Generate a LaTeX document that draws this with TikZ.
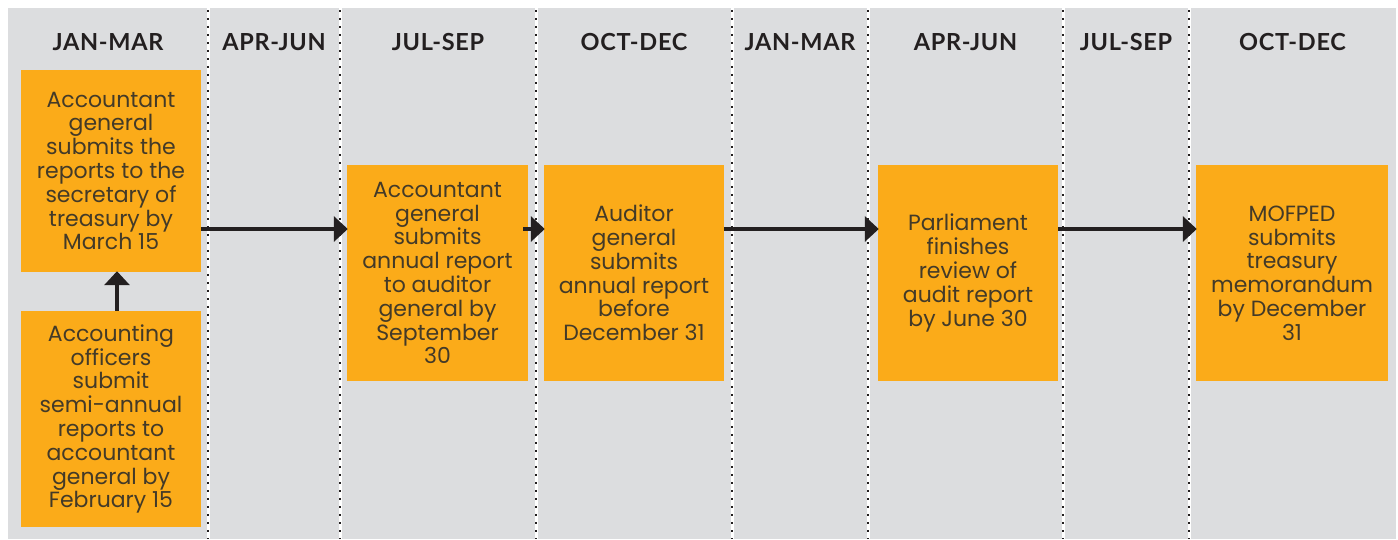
\documentclass[tikz,border=0pt]{standalone}
\usepackage{fontspec}
\setmainfont{Poppins}
\newfontfamily\headfont{Lato}[LetterSpace=3]
\usetikzlibrary{arrows.meta,calc}
\definecolor{panelgrey}{HTML}{DCDDDF}
\definecolor{boxorange}{HTML}{FBAB19}
\definecolor{inkdark}{HTML}{231F20}
\definecolor{boxink}{HTML}{433A28}
\tikzset{
  quarterhead/.style={font=\headfont\bfseries\fontsize{23.5}{24}\selectfont, text=inkdark, anchor=base, inner sep=0pt},
  eventbox/.style={fill=boxorange, draw=none, align=center, text=boxink,
    font=\fontsize{22}{23.8}\selectfont, inner sep=0pt},
  divider/.style={line width=3pt, white},
  dividerdots/.style={line width=2.2pt, inkdark, dash pattern=on 2.2pt off 5.8pt},
  flow/.style={line width=3.4pt, inkdark, -{Triangle[length=14pt,width=25pt]}, shorten >=-1pt}
}
\begin{document}
\begin{tikzpicture}[x=1pt,y=-1pt]
\useasboundingbox (0,0) rectangle (1398,539);
\fill[panelgrey] (8,8) rectangle (1396,539);

% quarter dividers
\foreach \dx in {208,340,536,732,868,1063,1189}{
  \draw[divider] (\dx,8) -- (\dx,539);
  \draw[dividerdots] (\dx,10) -- (\dx,539);
}

% quarter headings
\node[quarterhead] (q1) at (108,50) {JAN-MAR};
\node[quarterhead] (q2) at (274,50) {APR-JUN};
\node[quarterhead] (q3) at (438,50) {JUL-SEP};
\node[quarterhead] (q4) at (634,50) {OCT-DEC};
\node[quarterhead] (q5) at (800,50) {JAN-MAR};
\node[quarterhead] (q6) at (965.5,50) {APR-JUN};
\node[quarterhead] (q7) at (1126,50) {JUL-SEP};
\node[quarterhead] (q8) at (1292.5,50) {OCT-DEC};

% reporting steps
\node[eventbox, minimum width=180pt, minimum height=202pt] (ag1) at (111,171)
  {Accountant\\general\\submits the\\reports to the\\secretary of\\treasury by\\March 15};
\node[eventbox, minimum width=180pt, minimum height=216pt] (ao) at (111,419)
  {Accounting\\officers\\submit\\semi-annual\\reports to\\accountant\\general by\\February 15};
\node[eventbox, minimum width=181pt, minimum height=216pt] (ag2) at (437.5,273)
  {Accountant\\general\\submits\\annual report\\to auditor\\general by\\September\\30};
\node[eventbox, minimum width=180pt, minimum height=216pt] (aud) at (634,273)
  {Auditor\\general\\submits\\annual report\\before\\December 31};
\node[eventbox, minimum width=180pt, minimum height=216pt] (parl) at (968,273)
  {Parliament\\finishes\\review of\\audit report\\by June 30};
\node[eventbox, minimum width=192pt, minimum height=216pt] (mof) at (1292,273)
  {MOFPED\\submits\\treasury\\memorandum\\by December\\31};

% connectors
\coordinate (row) at (0,229);
\coordinate (col) at (117,0);
\draw[flow] (ao.north -| col) -- (ag1.south -| col);
\draw[flow] (ag1.east |- row) -- (ag2.west |- row);
\draw[flow] ($(ag2.east |- row)+(-5,0)$) -- (aud.west |- row);
\draw[flow] (aud.east |- row) -- (parl.west |- row);
\draw[flow] (parl.east |- row) -- (mof.west |- row);
\end{tikzpicture}
\end{document}
